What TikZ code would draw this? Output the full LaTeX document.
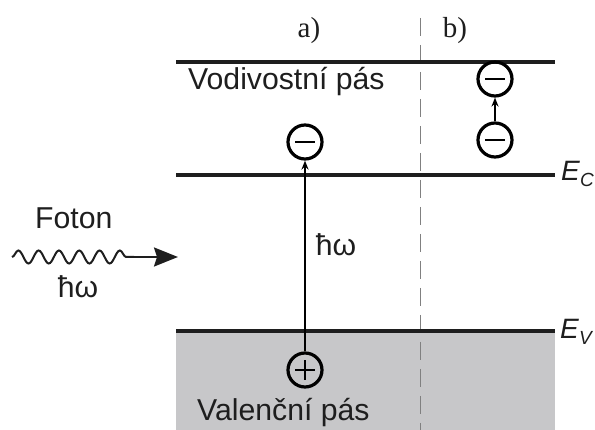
\documentclass[tikz,border=0pt]{standalone}
\usepackage{fontspec}
\setmainfont{Liberation Sans}
\newfontfamily\serifab{Liberation Serif}
\usetikzlibrary{decorations.pathmorphing,arrows.meta}
\definecolor{bandgray}{RGB}{199,199,201}
\definecolor{ink}{RGB}{30,30,30}
\begin{document}
\begin{tikzpicture}[x=1pt,y=-1pt,
  level/.style={line width=3.2pt, ink},
  lbl/.style={inner sep=0pt, text=ink, font=\fontsize{30.2}{32}\selectfont, anchor=base west},
  elbl/.style={inner sep=0pt, text=ink, font=\fontsize{28}{30}\selectfont, anchor=base west},
  carrier/.style={circle, draw=black, line width=3.2pt, minimum size=34pt, inner sep=0pt},
  minus/.style={carrier, path picture={\draw[line width=2.6pt] ([xshift=-10pt]path picture bounding box.center) -- ([xshift=10pt]path picture bounding box.center);}},
  plus/.style={carrier, path picture={\draw[line width=2.4pt] ([xshift=-10pt]path picture bounding box.center) -- ([xshift=10pt]path picture bounding box.center); \draw[line width=2.4pt] ([yshift=-10pt]path picture bounding box.center) -- ([yshift=10pt]path picture bounding box.center);}},
  jump/.style={line width=2pt, black, -{Stealth[length=9pt,width=7pt]}},
]
\useasboundingbox (0,0) rectangle (595,430);
% valence band fill
\fill[bandgray] (176,331) rectangle (555,430);
% dashed separator
\draw[gray, line width=1pt, dash pattern=on 18pt off 9pt] (420,18) -- (420,430);
% levels
\coordinate (t1) at (176,62); \coordinate (t2) at (555,62);
\coordinate (c1) at (176,175); \coordinate (c2) at (555,175);
\coordinate (v1) at (176,331); \coordinate (v2) at (555,331);
\draw[level] (t1) -- (t2);
\draw[level] (c1) -- (c2);
\draw[level] (v1) -- (v2);
% labels
\node[inner sep=0pt, anchor=base, text=ink, font=\serifab\fontsize{29}{31}\selectfont] (la) at (309,38) {a)};
\node[inner sep=0pt, anchor=base, text=ink, font=\serifab\fontsize{29}{31}\selectfont] (lb) at (455,38) {b)};
\node[lbl] (cb) at (188,90) {Vodivostní pás};
\node[lbl] (vb) at (197,421) {Valenční pás};
\node[elbl] (ec) at (561,181) {\textit{E}\raisebox{-6pt}{\fontsize{19}{20}\selectfont\textit{C}}};
\node[elbl] (ev) at (560,339) {\textit{E}\raisebox{-6pt}{\fontsize{19}{20}\selectfont\textit{V}}};
% carriers a)
\node[minus] (ea) at (305,142) {};
\node[plus] (ha) at (305,370) {};
\draw[jump] (ha.north) -- (ea.south);
\node[lbl, anchor=center] (hwa) at (336,245) {ħω};
% carriers b)
\node[minus] (eb1) at (495,79) {};
\node[minus] (eb2) at (495,140) {};
\draw[jump] (eb2.north) -- (eb1.south);
% photon
\node[lbl] (ft) at (35,229) {Foton};
\node[lbl, anchor=center] (hwp) at (78,287) {ħω};
\coordinate (ws) at (12,257);
\coordinate (we) at (134,257);
\coordinate (wt) at (178,257);
\draw[ink, line width=2pt, decorate, decoration={snake, amplitude=6.5pt, segment length=20.3pt}] (ws) -- (we);
\draw[ink, line width=2pt, -{Stealth[length=24pt,width=19pt,inset=3pt]}] (we) -- (wt);
\end{tikzpicture}
\end{document}
